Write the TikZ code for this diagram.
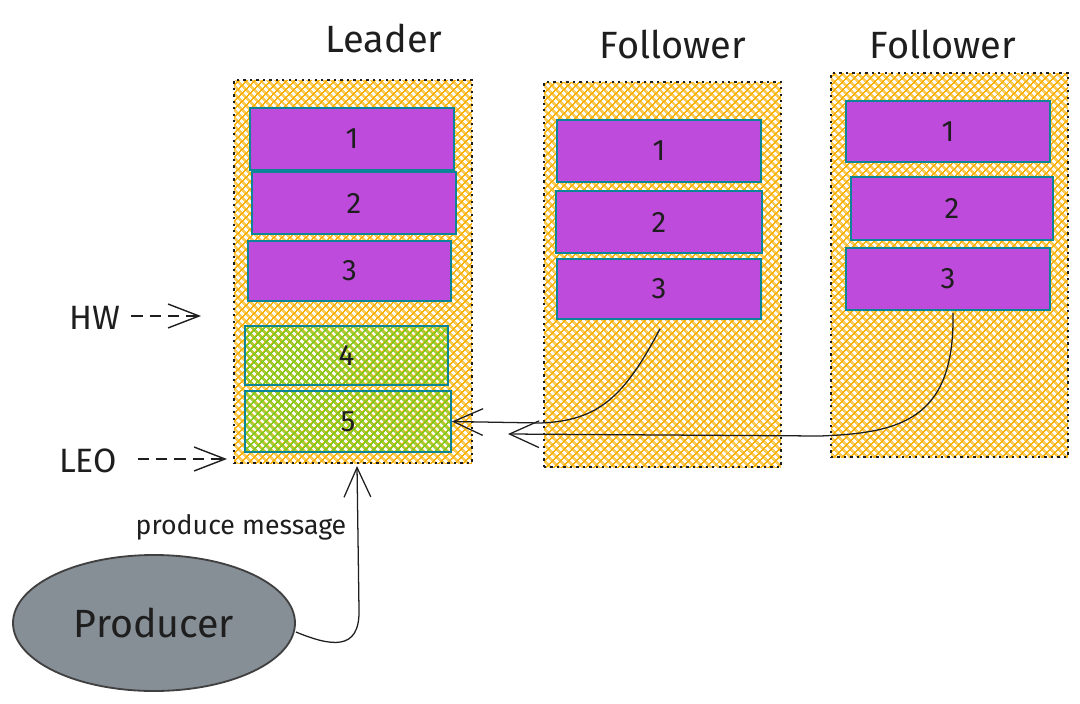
\documentclass[tikz,border=0pt]{standalone}
\usepackage{fontspec}
\setmainfont{Fira Sans}
\usetikzlibrary{patterns.meta,arrows.meta,calc,shapes.geometric}
\definecolor{ink}{HTML}{1E1E1E}
\definecolor{hatchor}{HTML}{FAB005}
\definecolor{hatchgr}{HTML}{82C91E}
\definecolor{purp}{HTML}{BE4BDB}
\definecolor{boxline}{HTML}{0C8599}
\definecolor{prodgray}{HTML}{868E96}
\begin{document}
\begin{tikzpicture}[x=0.025cm,y=-0.025cm,
  sz/.style 2 args={minimum width=#1*0.025cm,minimum height=#2*0.025cm},
  container/.style={rectangle,inner sep=0pt,draw=ink,line width=1.1pt,
    dash pattern=on 1.6pt off 3pt,preaction={fill=white},
    pattern={Hatch[angle=45,distance=4pt,line width=1.2pt]},pattern color=hatchor},
  msgbox/.style={rectangle,inner sep=0pt,draw=boxline,line width=1.2pt,fill=purp,
    text=ink,font=\fontsize{21}{25}\selectfont},
  newbox/.style={rectangle,inner sep=0pt,draw=boxline,line width=1.2pt,
    pattern={Hatch[angle=45,distance=4pt,line width=1.2pt]},pattern color=hatchgr,
    text=ink,font=\fontsize{21}{25}\selectfont},
  title/.style={text=ink,font=\fontsize{27}{32}\selectfont},
  mark label/.style={text=ink,font=\fontsize{24}{28}\selectfont},
  conn/.style={draw=ink,line width=0.9pt,-{Straight Barb[length=21pt,width=19pt]}},
  pointer/.style={draw=ink,line width=1pt,dash pattern=on 8pt off 5pt,
    -{Straight Barb[length=22pt,width=17pt]}},
]
\useasboundingbox (0,0) rectangle (1080,704);

% titles
\node[title] (tl) at (384,38) {Leader};
\node[title] (tf1) at (673,44) {Follower};
\node[title] (tf2) at (943,44) {Follower};

% containers
\node[container,sz={238}{383}] (L) at (353,271.5) {};
\node[container,sz={237}{385}] (F1) at (662.5,274.5) {};
\node[container,sz={237}{384}] (F2) at (949.5,265) {};

% leader boxes
\node[msgbox,sz={204}{62}] (L1) at (352,139) {1};
\node[msgbox,sz={204}{62}] (L2) at (354,203) {2};
\node[msgbox,sz={203}{60}] (L3) at (349.5,271) {3};
\node[newbox,sz={203}{59}] (L4) at (346.5,355.5) {4};
\node[newbox,sz={206}{61}] (L5) at (348,421.5) {5};

% follower 1 boxes
\node[msgbox,sz={204}{62}] (F1a) at (659,151) {1};
\node[msgbox,sz={206}{62}] (F1b) at (659,222) {2};
\node[msgbox,sz={204}{60}] (F1c) at (659,289) {3};

% follower 2 boxes
\node[msgbox,sz={204}{61}] (F2a) at (948,131.5) {1};
\node[msgbox,sz={202}{63}] (F2b) at (952,208.5) {2};
\node[msgbox,sz={204}{62}] (F2c) at (948,279) {3};

% HW / LEO markers
\node[mark label] (hw) at (95,318) {HW};
\node[mark label] (leo) at (88,461) {LEO};
\coordinate (hwt) at (201,316);
\coordinate (leot) at (227,459);
\draw[pointer] ($(hw.east)+(6,-2)$) -- (hwt);
\draw[pointer] ($(leo.east)+(16,-2)$) -- (leot);

% fetch connectors
\coordinate (t2) at (508,434);
\draw[conn] ($(F1c.south)+(1,9)$) .. controls (625,395) and (600,421) .. (540,423) -- (L5.east);
\draw[conn] ($(F2c.south)+(5,2)$) .. controls (955,420) and (900,433) .. (820,436) -- (t2);

% producer
\node[ellipse,draw=ink!85,line width=1.3pt,fill=prodgray,sz={282}{136},text=ink,
  font=\fontsize{28}{32}\selectfont] (P) at (154,623) {Producer};
\coordinate (pin) at (357,466);
\draw[conn] ($(P.east)+(0,9)$) .. controls (330,646) and (360,652) .. (359,610) -- (pin);
\node[text=ink,font=\fontsize{19}{22}\selectfont] (pm) at (241,527) {produce message};

\end{tikzpicture}
\end{document}
